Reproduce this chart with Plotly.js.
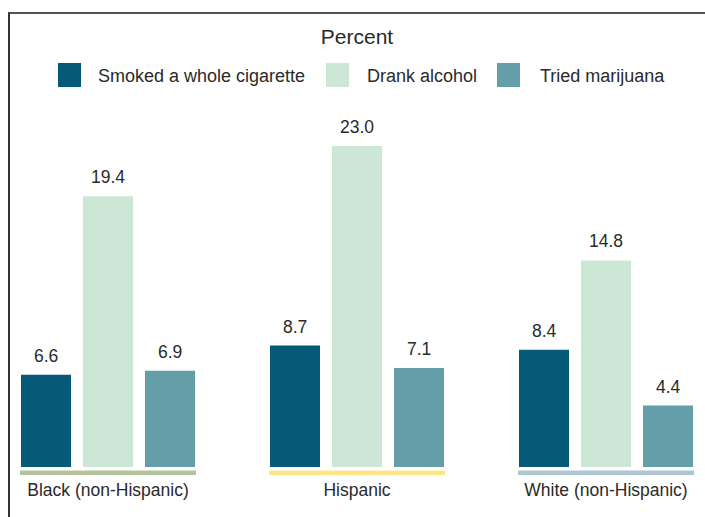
<!DOCTYPE html>
<html><head><meta charset="utf-8">
<script src="https://cdn.plot.ly/plotly-3.0.1.min.js"></script>
<style>
html,body{margin:0;padding:0;background:#fff;}
#wrap{position:relative;width:705px;height:517px;overflow:hidden;}
#chart{position:absolute;left:0;top:0;width:705px;height:517px;}
#frame{position:absolute;left:8px;top:12px;width:760px;height:560px;border-left:2px solid #333;border-top:2px solid #555;pointer-events:none;}
</style>
</head><body>
<div id="wrap"><div id="chart"></div><div id="frame"></div></div>
<script>
const categories = ['Black (non-Hispanic)', 'Hispanic', 'White (non-Hispanic)'];
const seriesNames = ['Smoked a whole cigarette', 'Drank alcohol', 'Tried marijuana'];
const smoked = [6.6, 8.7, 8.4];
const alcohol = [19.4, 23.0, 14.8];
const marijuana = [6.9, 7.1, 4.4];
const seriesColors = ['#065a78', '#cce7d6', '#649fa9'];
const underlineColors = ['#b3c39b', '#fde68a', '#adc6d2'];

const FONT = 'Liberation Sans, Arial, Helvetica, sans-serif';
const TXT = '#2a2a2a';
const W = 705, H = 517, MT = 100, MB = 50;
const plotH = H - MT - MB;
const pxPerUnit = 13.96;
const catStep = 249;   // px between group centres
const firstCentre = 108;
const slotPx = 62;

const seriesValues = [smoked, alcohol, marijuana];

const traces = seriesValues.map((vals, j) => ({
  type: 'bar',
  name: seriesNames[j],
  x: categories,
  y: vals,
  marker: {color: seriesColors[j], line: {width: 0}},
  showlegend: false,
  hoverinfo: 'x+y+name'
}));

const annotations = [];
seriesValues.forEach((vals, j) => {
  vals.forEach((v, i) => {
    annotations.push({
      x: categories[i], y: v, xref: 'x', yref: 'y',
      xshift: (j - 1) * slotPx, yshift: 7,
      text: v.toFixed(1), showarrow: false,
      yanchor: 'bottom', xanchor: 'center',
      font: {family: FONT, size: 17.5, color: TXT}
    });
  });
});

// manual legend
const legendSquaresX = [58, 326, 497];
const legendTextX = [96, 365, 538];
const pxToPaperY = py => (H - MB - py) / plotH;
const shapes = [];
seriesNames.forEach((n, j) => {
  shapes.push({
    type: 'rect', xref: 'paper', yref: 'paper',
    x0: legendSquaresX[j] / W, x1: (legendSquaresX[j] + 23) / W,
    y0: pxToPaperY(87), y1: pxToPaperY(63),
    fillcolor: seriesColors[j], line: {width: 0}
  });
  annotations.push({
    xref: 'paper', yref: 'paper', x: legendTextX[j] / W, y: pxToPaperY(76),
    xanchor: 'left', yanchor: 'middle', showarrow: false, text: n,
    font: {family: FONT, size: 18, color: TXT}
  });
});

// group underlines
const halfUnder = 88 / catStep;
categories.forEach((c, i) => {
  shapes.push({
    type: 'rect', xref: 'x', yref: 'paper',
    x0: i - halfUnder, x1: i + halfUnder,
    y0: pxToPaperY(475), y1: pxToPaperY(470.5),
    fillcolor: underlineColors[i], line: {width: 0}, layer: 'above'
  });
});

const layout = {
  width: W, height: H,
  margin: {l: 0, r: 0, t: MT, b: MB, pad: 0},
  paper_bgcolor: '#fff', plot_bgcolor: '#fff',
  barmode: 'group', bargap: 0.253, bargroupgap: 0.1935,
  title: {
    text: 'Percent', x: 357 / W, xanchor: 'center',
    y: 1 - 37 / H, yanchor: 'middle', yref: 'container', xref: 'paper',
    font: {family: FONT, size: 21, color: TXT}
  },
  xaxis: {
    type: 'category',
    range: [-firstCentre / catStep, (W - firstCentre) / catStep],
    showgrid: false, zeroline: false, showline: false, ticks: '',
    tickfont: {family: FONT, size: 17.5, color: TXT},
    ticklabelstandoff: 10, fixedrange: true
  },
  yaxis: {
    range: [0, plotH / pxPerUnit], visible: false, showgrid: false,
    zeroline: false, fixedrange: true
  },
  showlegend: false,
  shapes: shapes,
  annotations: annotations
};

Plotly.newPlot('chart', traces, layout, {displayModeBar: false, staticPlot: true});
</script>
</body></html>
